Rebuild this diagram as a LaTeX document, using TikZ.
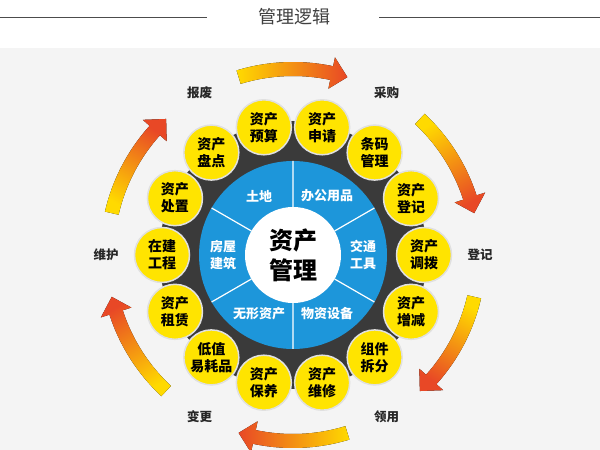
\documentclass[tikz,border=0pt]{standalone}
\usepackage{fontspec}
\setmainfont{Noto Sans CJK SC}
\usepackage{tikz}

\definecolor{ringblue}{RGB}{29,150,218}
\definecolor{ringdark}{RGB}{58,58,58}
\definecolor{itemyellow}{RGB}{255,228,0}
\definecolor{arrowtail}{RGB}{255,218,0}
\definecolor{arrowtip}{RGB}{232,72,38}
\definecolor{bggrey}{RGB}{244,244,244}

% 바깥 화살표: #1 = 중심 각도 (시계 방향)
\newcommand{\cyclearrow}[1]{%
  \pgfmathsetmacro{\ta}{#1+17}%
  \pgfmathsetmacro{\tb}{#1-12}%
  \pgfmathsetmacro{\tc}{#1-17}%
  \pgfmathsetmacro{\sa}{#1-180}%
  \fill[bottom color=arrowtail, top color=arrowtip, shading angle=\sa]
    (\ta:193) arc[start angle=\ta, end angle=\tb, radius=193]
    -- (\tb:202) -- (\tc:186) -- (\tb:170) -- (\tb:179)
    arc[start angle=\tb, end angle=\ta, radius=179] -- cycle;
}

\begin{document}
\begin{tikzpicture}[
      x=1pt, y=1pt,
      item/.style={circle,fill=itemyellow,draw=black!12,line width=1.5pt,minimum size=55pt,inner sep=0pt,align=center,
        font=\bfseries\fontsize{14}{17}\selectfont},
      seg/.style={text=white,align=center,font=\bfseries\fontsize{13}{17}\selectfont},
      lab/.style={text=black!85,font=\bfseries\fontsize{12.5}{14}\selectfont},
      divider/.style={white,line width=1.2pt}
  ]
      % 배경
      \useasboundingbox (0,0) rectangle (600,450);
      \fill[white] (0,0) rectangle (600,450);
      \fill[bggrey] (0,0) rectangle (600,402);

      % 제목
      \node[text=black!75,font=\fontsize{18}{20}\selectfont] (title) at (294,433) {管理逻辑};
      \draw[black!70,line width=0.9pt] (0,433) -- (207,433);
      \draw[black!70,line width=0.9pt] (379,433) -- (600,433);

      \begin{scope}[shift={(293,195)}]
      % 바깥 화살표
      \cyclearrow{90}
      \cyclearrow{30}
      \cyclearrow{-30}
      \cyclearrow{-90}
      \cyclearrow{-150}
      \cyclearrow{150}

      % 바깥 라벨
      \node[lab] (buy)   at (60:187)   {采购};
      \node[lab] (reg)   at (0:187)    {登记};
      \node[lab] (use)   at (-60:187)  {领用};
      \node[lab] (chg)   at (-120:187) {变更};
      \node[lab] (keep)  at (180:187)  {维护};
      \node[lab] (scrap) at (120:187)  {报废};

      % 원판
      \fill[ringdark] (0,0) circle (134);
      \fill[ringblue] (0,0) circle (94);
      \node[circle,fill=white,minimum size=96pt,inner sep=0pt,align=center,
            font=\bfseries\fontsize{24}{30}\selectfont] (core) at (0,0) {资产\\管理};
      \draw[divider] (90:48) -- (90:94) (30:48) -- (30:94) (-30:48) -- (-30:94)
                     (-90:48) -- (-90:94) (-150:48) -- (-150:94) (150:48) -- (150:94);

      \node[seg] (land)   at (120:68)  {土地};
      \node[seg] (office) at (60:68)   {办公用品};
      \node[seg] (car)    at (0:70)    {交通\\工具};
      \node[seg] (goods)  at (-60:68)  {物资设备};
      \node[seg] (intang) at (-120:68) {无形资产};
      \node[seg] (house)  at (180:70)  {房屋\\建筑};

      % 노란 원
      \node[item] (i1)  at (0:131)       {资产\\调拨};
      \node[item] (i2)  at (25.71:131)   {资产\\登记};
      \node[item] (i3)  at (51.43:131)   {条码\\管理};
      \node[item] (i4)  at (77.14:131)   {资产\\申请};
      \node[item] (i5)  at (102.86:131)  {资产\\预算};
      \node[item] (i6)  at (128.57:131)  {资产\\盘点};
      \node[item] (i7)  at (154.29:131)  {资产\\处置};
      \node[item] (i8)  at (180:131)     {在建\\工程};
      \node[item] (i9)  at (205.71:131)  {资产\\租赁};
      \node[item] (i10) at (231.43:131)  {低值\\易耗品};
      \node[item] (i11) at (257.14:131)  {资产\\保养};
      \node[item] (i12) at (282.86:131)  {资产\\维修};
      \node[item] (i13) at (308.57:131)  {组件\\拆分};
      \node[item] (i14) at (334.29:131)  {资产\\增减};
      \end{scope}
  \end{tikzpicture}
\end{document}
